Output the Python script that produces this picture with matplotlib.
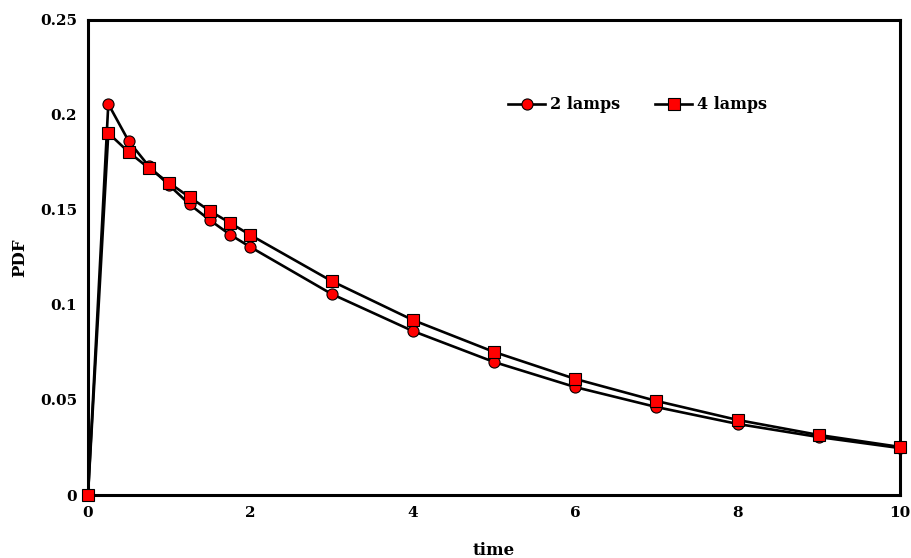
import numpy as np
import matplotlib.pyplot as plt

time = [0, 0.25, 0.5, 0.75, 1, 1.25, 1.5, 1.75, 2, 3, 4, 5, 6, 7, 8, 9, 10]
pdf_2_lamps = [0, 0.2058, 0.1863, 0.1730, 0.1630, 0.1530, 0.1447, 0.1370, 0.1305,
               0.1058, 0.0863, 0.0700, 0.0568, 0.0463, 0.0374, 0.0305, 0.0247]
pdf_4_lamps = [0, 0.1905, 0.1805, 0.1720, 0.1642, 0.1568, 0.1495, 0.1432, 0.1368,
               0.1126, 0.0921, 0.0753, 0.0611, 0.0495, 0.0395, 0.0316, 0.0253]

plt.rcParams['font.family'] = ['DejaVu Serif']
plt.rcParams['font.weight'] = 'bold'

fig = plt.figure(figsize=(9.12, 5.58), dpi=100)
ax = fig.add_axes([0.0965, 0.1129, 0.8903, 0.8513])

ax.plot(time, pdf_2_lamps, "-o", color="black", linewidth=1.9,
        markerfacecolor="red", markeredgecolor="black", markeredgewidth=0.8,
        markersize=8, label="2 lamps", clip_on=False, zorder=3)
ax.plot(time, pdf_4_lamps, "-s", color="black", linewidth=1.9,
        markerfacecolor="red", markeredgecolor="black", markeredgewidth=0.8,
        markersize=8, label="4 lamps", clip_on=False, zorder=4)

ax.set_xlim(0, 10)
ax.set_ylim(0, 0.25)
ax.set_xticks([0, 2, 4, 6, 8, 10])
ax.set_yticks([0, 0.05, 0.1, 0.15, 0.2, 0.25])
ax.set_yticklabels(["0", "0.05", "0.1", "0.15", "0.2", "0.25"])
ax.tick_params(length=0, labelsize=11, pad=8)
for lbl in ax.get_xticklabels() + ax.get_yticklabels():
    lbl.set_fontweight("bold")

for sp in ax.spines.values():
    sp.set_linewidth(2.2)

ax.set_xlabel("time", fontsize=12, fontweight="bold", labelpad=16)
ax.set_ylabel("PDF", fontsize=12, fontweight="bold", labelpad=8)

leg = ax.legend(loc="upper left", bbox_to_anchor=(0.5, 0.87), ncol=2, frameon=False,
                fontsize=11.5, handlelength=2.3, columnspacing=2.2, handletextpad=0.3)
for t in leg.get_texts():
    t.set_fontweight("bold")

fig.savefig("out.png", dpi=100)
